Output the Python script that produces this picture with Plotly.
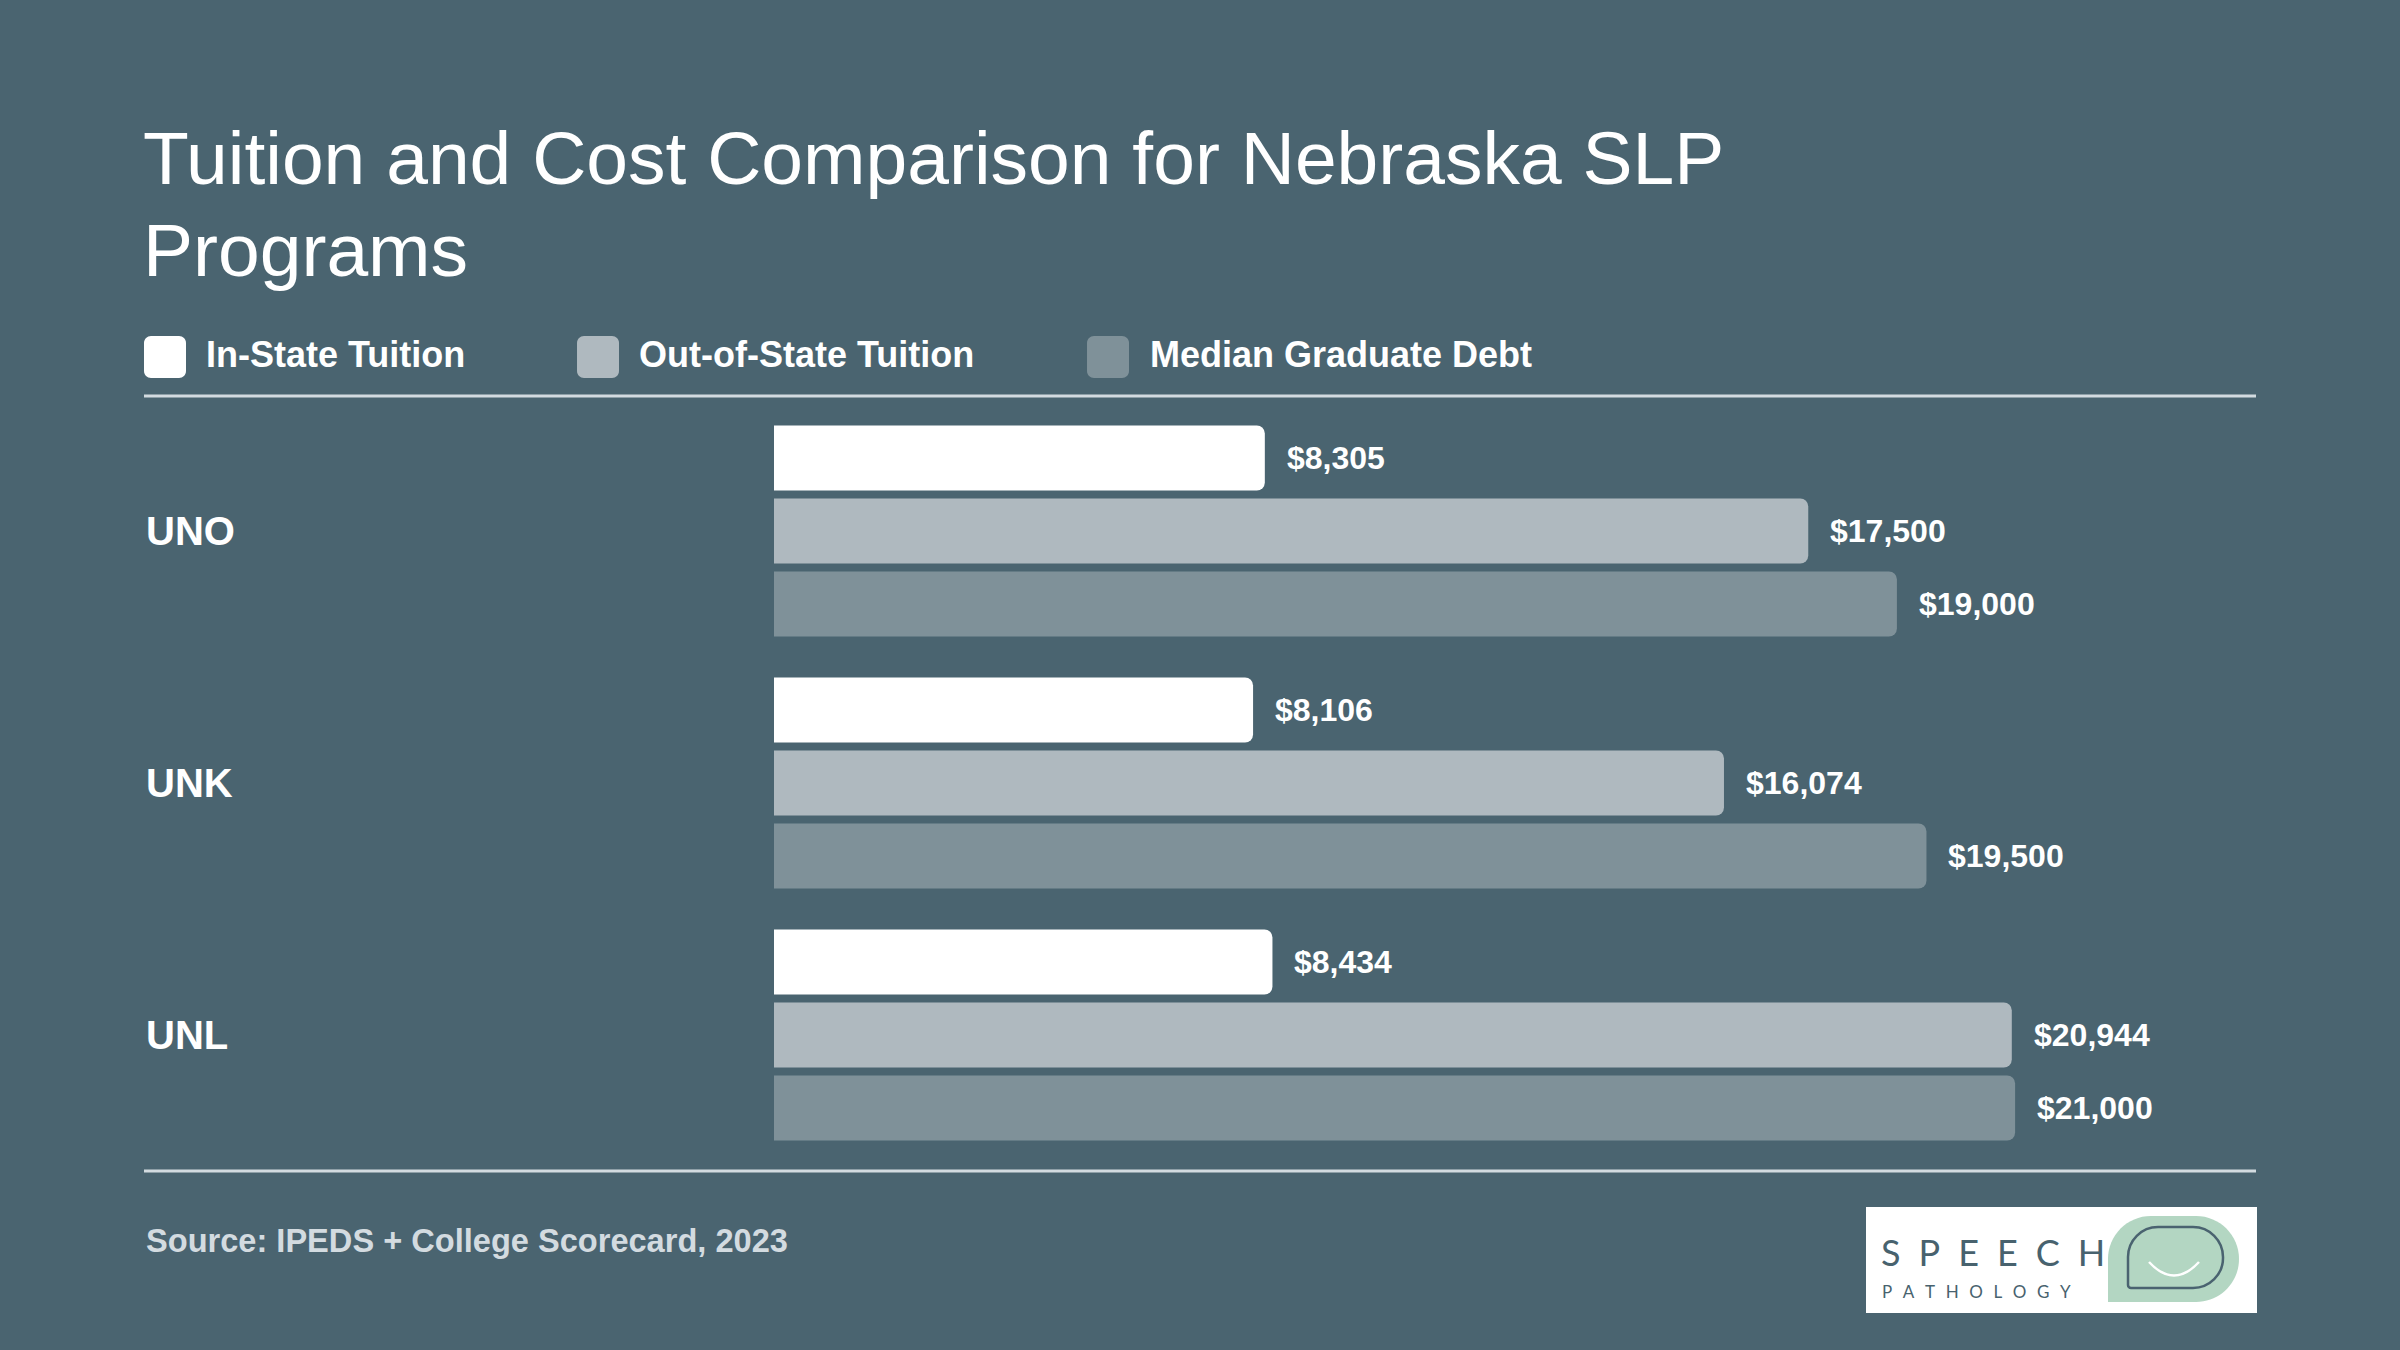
import plotly.graph_objects as go

# ---------------- data ----------------
schools = ["UNO", "UNK", "UNL"]
series_names = ["In-State Tuition", "Out-of-State Tuition", "Median Graduate Debt"]
in_state = [8305, 8106, 8434]
out_state = [17500, 16074, 20944]
median_debt = [19000, 19500, 21000]
series_values = [in_state, out_state, median_debt]
series_colors = ["#ffffff", "#afb9bf", "#7f9199"]

title_lines = ["Tuition and Cost Comparison for Nebraska SLP", "Programs"]
source_text = "Source: IPEDS + College Scorecard, 2023"

# ---------------- layout constants ----------------
W, H = 2400, 1350
BG = "#4a6470"
LINE = "#d3dbe0"
FONT = "Liberation Sans"

x_left_px, x_right_px = 774, 2256
x_max = 25076
y_top_px, y_bot_px = 405, 1161
bargap = 0.131
bargroupgap = 0.11


def px(x):
    return x / W


def py(y):
    return 1 - y / H


def P(x, y):
    return f"{px(x):.5f},{py(y):.5f}"


def rrect(x0, y0, x1, y1, rtl, rtr, rbr, rbl):
    k = 0.5523
    s = f"M {P(x0 + rtl, y0)} L {P(x1 - rtr, y0)} "
    s += f"C {P(x1 - rtr + k * rtr, y0)} {P(x1, y0 + rtr - k * rtr)} {P(x1, y0 + rtr)} "
    s += f"L {P(x1, y1 - rbr)} "
    s += f"C {P(x1, y1 - rbr + k * rbr)} {P(x1 - rbr + k * rbr, y1)} {P(x1 - rbr, y1)} "
    s += f"L {P(x0 + rbl, y1)} "
    s += f"C {P(x0 + rbl - k * rbl, y1)} {P(x0, y1 - rbl + k * rbl)} {P(x0, y1 - rbl)} "
    s += f"L {P(x0, y0 + rtl)} "
    s += f"C {P(x0, y0 + rtl - k * rtl)} {P(x0 + rtl - k * rtl, y0)} {P(x0 + rtl, y0)} Z"
    return s


fig = go.Figure()
for name, vals, col in zip(series_names, series_values, series_colors):
    fig.add_trace(go.Bar(
        y=schools, x=vals, name=name, orientation="h",
        marker=dict(color=col, line=dict(width=0), cornerradius=8),
        showlegend=False, hoverinfo="skip",
    ))

annotations = []
shapes = []

# value labels
slot = (1 - bargap) / len(series_names)
for i, vals in enumerate(series_values):
    for j, v in enumerate(vals):
        annotations.append(dict(
            x=v, y=j + (i - 1) * slot, xref="x", yref="y",
            text=f"${v:,}", showarrow=False, xanchor="left", yanchor="middle",
            xshift=20, font=dict(family=FONT, size=32, color="#ffffff", weight="bold"),
        ))

# category labels
for j, s in enumerate(schools):
    annotations.append(dict(
        x=px(144), y=j, xref="paper", yref="y", text=s, showarrow=False,
        xanchor="left", yanchor="middle",
        font=dict(family=FONT, size=40, color="#ffffff", weight="bold"),
    ))

# title (two lines)
for k, line in enumerate(title_lines):
    annotations.append(dict(
        x=px(141), y=py(114 + 92 * k), xref="paper", yref="paper", text=line,
        showarrow=False, xanchor="left", yanchor="top", align="left",
        font=dict(family=FONT, size=75, color="#ffffff"),
    ))

# legend (custom)
sw_x = [144, 577, 1087]
txt_x = [204, 637, 1148]
for name, col, sx, tx in zip(series_names, series_colors, sw_x, txt_x):
    shapes.append(dict(type="path", xref="paper", yref="paper",
                       path=rrect(sx, 336, sx + 42, 378, 7, 7, 7, 7),
                       fillcolor=col, line=dict(width=0)))
    annotations.append(dict(
        x=px(tx), y=py(354), xref="paper", yref="paper", text=name,
        showarrow=False, xanchor="left", yanchor="middle",
        font=dict(family=FONT, size=36, color="#ffffff", weight="bold"),
    ))

# divider lines
for yy in (396, 1171):
    shapes.append(dict(type="line", xref="paper", yref="paper",
                       x0=px(144), x1=px(2256), y0=py(yy), y1=py(yy),
                       line=dict(color=LINE, width=3)))

# source
annotations.append(dict(
    x=px(144), y=py(1240), xref="paper", yref="paper", text=source_text,
    showarrow=False, xanchor="left", yanchor="middle",
    font=dict(family=FONT, size=32.6, color=LINE, weight="bold"),
))

# logo
shapes.append(dict(type="rect", xref="paper", yref="paper",
                   x0=px(1866), x1=px(2257), y0=py(1313), y1=py(1207),
                   fillcolor="#ffffff", line=dict(width=0)))
shapes.append(dict(type="path", xref="paper", yref="paper",
                   path=rrect(2108, 1216, 2239, 1302, 43, 43, 43, 0),
                   fillcolor="#b3d6c2", line=dict(width=0)))
shapes.append(dict(type="path", xref="paper", yref="paper",
                   path=rrect(2128, 1227, 2223, 1288, 30, 30, 30, 3),
                   fillcolor="rgba(0,0,0,0)", line=dict(color="#4a6370", width=2.5)))
shapes.append(dict(type="path", xref="paper", yref="paper",
                   path=f"M {P(2149, 1262)} Q {P(2174, 1289)} {P(2199, 1262)}",
                   fillcolor="rgba(0,0,0,0)", line=dict(color="#ffffff", width=2.5)))
annotations.append(dict(
    x=px(1880), y=py(1252), xref="paper", yref="paper",
    text="S\u2002P\u2002E\u2002E\u2002C\u2002H", showarrow=False,
    xanchor="left", yanchor="middle", borderpad=0,
    font=dict(family="Lato", size=36, color="#48626e"),
))
annotations.append(dict(
    x=px(1881), y=py(1291), xref="paper", yref="paper",
    text="P\u2002\u2009A\u2002\u2009T\u2002\u2009H\u2002\u2009O\u2002\u2009L\u2002\u2009O\u2002\u2009G\u2002\u2009Y",
    showarrow=False, xanchor="left", yanchor="middle", borderpad=0,
    font=dict(family="Lato", size=17, color="#48626e"),
))

fig.update_layout(
    width=W, height=H,
    margin=dict(l=0, r=0, t=0, b=0, pad=0),
    paper_bgcolor=BG, plot_bgcolor=BG,
    barmode="group", bargap=bargap, bargroupgap=bargroupgap,
    xaxis=dict(domain=[px(x_left_px), px(x_right_px)], range=[0, x_max],
               showgrid=False, zeroline=False, showticklabels=False, showline=False,
               fixedrange=True),
    yaxis=dict(domain=[py(y_bot_px), py(y_top_px)], type="category",
               categoryorder="array", categoryarray=schools, range=[2.5, -0.5],
               showgrid=False, zeroline=False, showticklabels=False, showline=False,
               fixedrange=True),
    annotations=annotations, shapes=shapes,
    font=dict(family=FONT),
)

fig.write_html("out.html")
